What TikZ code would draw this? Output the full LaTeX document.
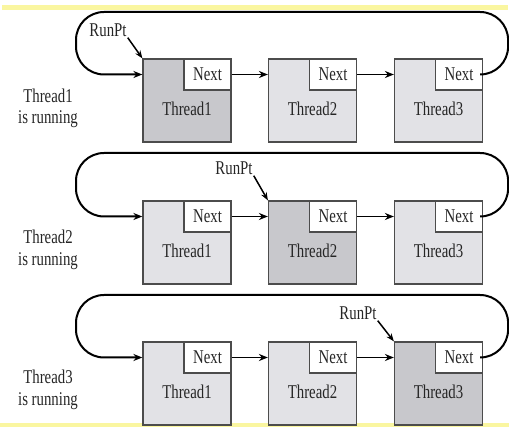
\documentclass[tikz,border=0pt]{standalone}
\usepackage{fontspec}
\setmainfont{Liberation Serif}[FakeStretch=0.76]
\usetikzlibrary{arrows.meta}
\definecolor{boxgray}{RGB}{226,226,230}
\definecolor{rungray}{RGB}{200,200,204}
\definecolor{bandyellow}{RGB}{250,246,160}
\tikzset{
  thbox/.style={draw=black!70, line width=1.2pt, minimum width=88pt, minimum height=83pt, inner sep=0pt, fill=boxgray},
  runbox/.style={thbox, fill=rungray},
  nextbox/.style={draw=black!70, line width=1.2pt, fill=white, minimum width=47pt, minimum height=31pt, inner sep=0pt, anchor=north east},
  link/.style={line width=1.8pt, -{Stealth[length=9pt,width=7pt]}},
  ring/.style={line width=2pt, rounded corners=28pt, -{Stealth[length=9pt,width=7pt]}},
  ptr/.style={line width=1.5pt, -{Stealth[length=8pt,width=6pt]}},
}
\begin{document}
\begin{tikzpicture}[x=1pt,y=-1pt,every node/.style={font=\fontsize{19.5}{21.5}\selectfont, text=black!85}]
      \useasboundingbox (0,0) rectangle (509,427);%
      \fill[bandyellow] (2,5) rectangle (508,10);%
      \fill[bandyellow] (0,423) rectangle (509,427);%

      % Thread1 is running
      \node[runbox] (b11) at (187,100.5) {};%
      \node[thbox] (b12) at (312.5,100.5) {};%
      \node[thbox] (b13) at (438.5,100.5) {};%
      \node[nextbox] (n11) at (b11.north east) {Next};%
      \node[nextbox] (n12) at (b12.north east) {Next};%
      \node[nextbox] (n13) at (b13.north east) {Next};%
      \node (t11) at ([yshift=-8pt]b11.center) {Thread1};%
      \node (t12) at ([yshift=-8pt]b12.center) {Thread2};%
      \node (t13) at ([yshift=-8pt]b13.center) {Thread3};%
      \draw[link] (n11.east) -- (n11.east -| b12.west);%
      \draw[link] (n12.east) -- (n12.east -| b13.west);%
      \draw[ring] (n13.east) -- ++(25,0) |- (76,12) |- (n11.east -| b11.west);%
      \node[inner sep=1pt] (rp1) at (108,30) {RunPt};%
      \draw[ptr] (rp1.south east) -- (b11.north west);%
      \node[align=center] (s1) at (48,108.5) {Thread1\\is running};%

      % Thread2 is running
      \node[thbox] (b21) at (187,242.5) {};%
      \node[runbox] (b22) at (312.5,242.5) {};%
      \node[thbox] (b23) at (438.5,242.5) {};%
      \node[nextbox] (n21) at (b21.north east) {Next};%
      \node[nextbox] (n22) at (b22.north east) {Next};%
      \node[nextbox] (n23) at (b23.north east) {Next};%
      \node (t21) at ([yshift=-8pt]b21.center) {Thread1};%
      \node (t22) at ([yshift=-8pt]b22.center) {Thread2};%
      \node (t23) at ([yshift=-8pt]b23.center) {Thread3};%
      \draw[link] (n21.east) -- (n21.east -| b22.west);%
      \draw[link] (n22.east) -- (n22.east -| b23.west);%
      \draw[ring] (n23.east) -- ++(25,0) |- (76,153) |- (n21.east -| b21.west);%
      \node[inner sep=1pt] (rp2) at (234,168) {RunPt};%
      \draw[ptr] (rp2.south east) -- (b22.north west);%
      \node[align=center] (s2) at (48,250) {Thread2\\is running};%

      % Thread3 is running
      \node[thbox] (b31) at (187,383.5) {};%
      \node[thbox] (b32) at (312.5,383.5) {};%
      \node[runbox] (b33) at (438.5,383.5) {};%
      \node[nextbox] (n31) at (b31.north east) {Next};%
      \node[nextbox] (n32) at (b32.north east) {Next};%
      \node[nextbox] (n33) at (b33.north east) {Next};%
      \node (t31) at ([yshift=-8pt]b31.center) {Thread1};%
      \node (t32) at ([yshift=-8pt]b32.center) {Thread2};%
      \node (t33) at ([yshift=-8pt]b33.center) {Thread3};%
      \draw[link] (n31.east) -- (n31.east -| b32.west);%
      \draw[link] (n32.east) -- (n32.east -| b33.west);%
      \draw[ring] (n33.east) -- ++(25,0) |- (76,295) |- (n31.east -| b31.west);%
      \node[inner sep=1pt] (rp3) at (358,313) {RunPt};%
      \draw[ptr] (rp3.south east) -- (b33.north west);%
      \node[align=center] (s3) at (48,390) {Thread3\\is running};%
    \end{tikzpicture}
\end{document}
